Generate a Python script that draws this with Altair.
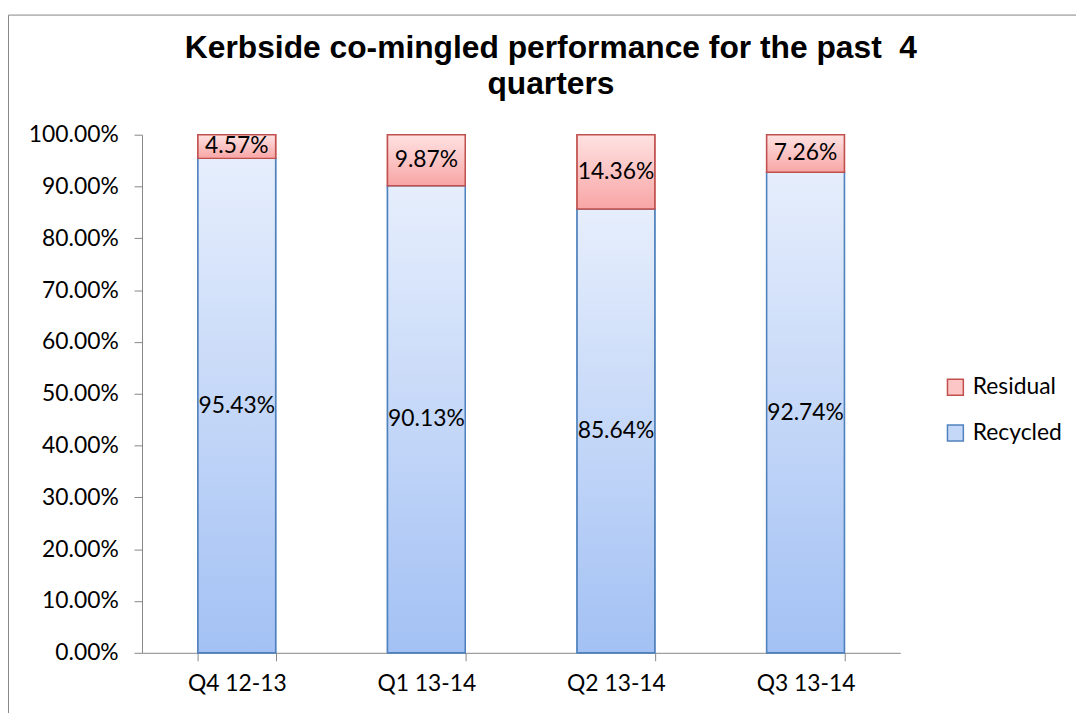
import altair as alt
import pandas as pd

quarters = ["Q4 12-13", "Q1 13-14", "Q2 13-14", "Q3 13-14"]
recycled = [0.9543, 0.9013, 0.8564, 0.9274]
residual = [0.0457, 0.0987, 0.1436, 0.0726]
series_names = ["Residual", "Recycled"]
y_ticks = [i / 10 for i in range(11)]
title_text = "Kerbside co-mingled performance for the past\u00a0 4\nquarters"

rows = []
for q, rc, rs in zip(quarters, recycled, residual):
    rows.append({"quarter": q, "series": "Recycled", "value": rc, "start": 0.0, "end": rc, "mid": rc / 2})
    rows.append({"quarter": q, "series": "Residual", "value": rs, "start": rc, "end": rc + rs, "mid": rc + rs / 2})
df = pd.DataFrame(rows)

FONT = "Lato"
FS = 23
AXIS_GRAY = "#868686"

x_enc = alt.X(
    "quarter:N",
    sort=quarters,
    title=None,
    scale=alt.Scale(paddingInner=0.59, paddingOuter=0.295),
    axis=alt.Axis(
        labelAngle=0, labelFont=FONT, labelFontSize=FS, labelColor="black",
        domainColor=AXIS_GRAY, tickColor=AXIS_GRAY, tickSize=8, tickBand="extent",
        labelPadding=12, grid=False,
    ),
)
y_scale = alt.Scale(domain=[0, 1], nice=False)
y_axis = alt.Axis(
    values=y_ticks, format=".2%", labelFont=FONT, labelFontSize=FS, labelColor="black",
    domainColor=AXIS_GRAY, tickColor=AXIS_GRAY, tickSize=8, labelPadding=16, grid=False,
)

base = alt.Chart(df)

rec_grad = alt.Gradient(
    gradient="linear", x1=0, x2=0, y1=0, y2=1,
    stops=[alt.GradientStop(color="#e6eefc", offset=0), alt.GradientStop(color="#a3c1f4", offset=1)],
)
res_grad = alt.Gradient(
    gradient="linear", x1=0, x2=0, y1=0, y2=1,
    stops=[alt.GradientStop(color="#ffe2e2", offset=0), alt.GradientStop(color="#f8a5a5", offset=1)],
)

rec_bars = base.transform_filter(alt.datum.series == "Recycled").mark_bar(
    fill=rec_grad, stroke="#4f81bd", strokeWidth=1.5
).encode(
    x=x_enc,
    y=alt.Y("start:Q", scale=y_scale, axis=y_axis, title=None),
    y2="end:Q",
)
res_bars = base.transform_filter(alt.datum.series == "Residual").mark_bar(
    fill=res_grad, stroke="#c0504d", strokeWidth=1.5
).encode(
    x=x_enc,
    y=alt.Y("start:Q", scale=y_scale, axis=y_axis, title=None),
    y2="end:Q",
)

legend_layer = base.mark_bar(strokeWidth=1.5).encode(
    x=x_enc,
    y=alt.Y("start:Q", scale=y_scale, axis=y_axis, title=None),
    y2="end:Q",
    fill=alt.Fill(
        "series:N", title=None,
        scale=alt.Scale(domain=series_names, range=["#fcc6c6", "#c6d8f8"]),
        legend=alt.Legend(
            orient="none", legendX=808, legendY=243, symbolType="square", symbolSize=256,
            symbolOpacity=1, symbolStrokeWidth=1.5, labelFont=FONT, labelFontSize=FS,
            labelColor="black", rowPadding=22, labelOffset=6,
        ),
    ),
    stroke=alt.Stroke(
        "series:N", title=None,
        scale=alt.Scale(domain=series_names, range=["#c0504d", "#4f81bd"]),
    ),
)

labels = base.mark_text(font=FONT, fontSize=FS, color="black", baseline="middle").encode(
    x=x_enc,
    y=alt.Y("mid:Q", scale=y_scale, axis=y_axis, title=None),
    text=alt.Text("value:Q", format=".2%"),
)

title_layer = alt.Chart(pd.DataFrame({"t": [title_text]})).mark_text(
    font="Liberation Sans", fontSize=32, fontWeight="bold", color="black",
    lineBreak="\n", lineHeight=36, baseline="alphabetic", align="center",
).encode(
    x=alt.value(412), y=alt.value(-77), text="t:N"
)

frame = alt.Chart(pd.DataFrame({"a": [0]})).mark_rect(
    fill="transparent", stroke=AXIS_GRAY, strokeWidth=1
).encode(
    x=alt.value(-134.5), x2=alt.value(1000), y=alt.value(-120.5), y2=alt.value(700)
)

chart = alt.layer(frame, legend_layer, rec_bars, res_bars, labels, title_layer).properties(
    width=764,
    height=522,
    autosize=alt.AutoSizeParams(type="none"),
    padding={"left": 135, "top": 125, "right": 177, "bottom": 58},
).configure_view(stroke=None)

chart.save("out.html", embed_options={"renderer": "svg", "actions": False})
